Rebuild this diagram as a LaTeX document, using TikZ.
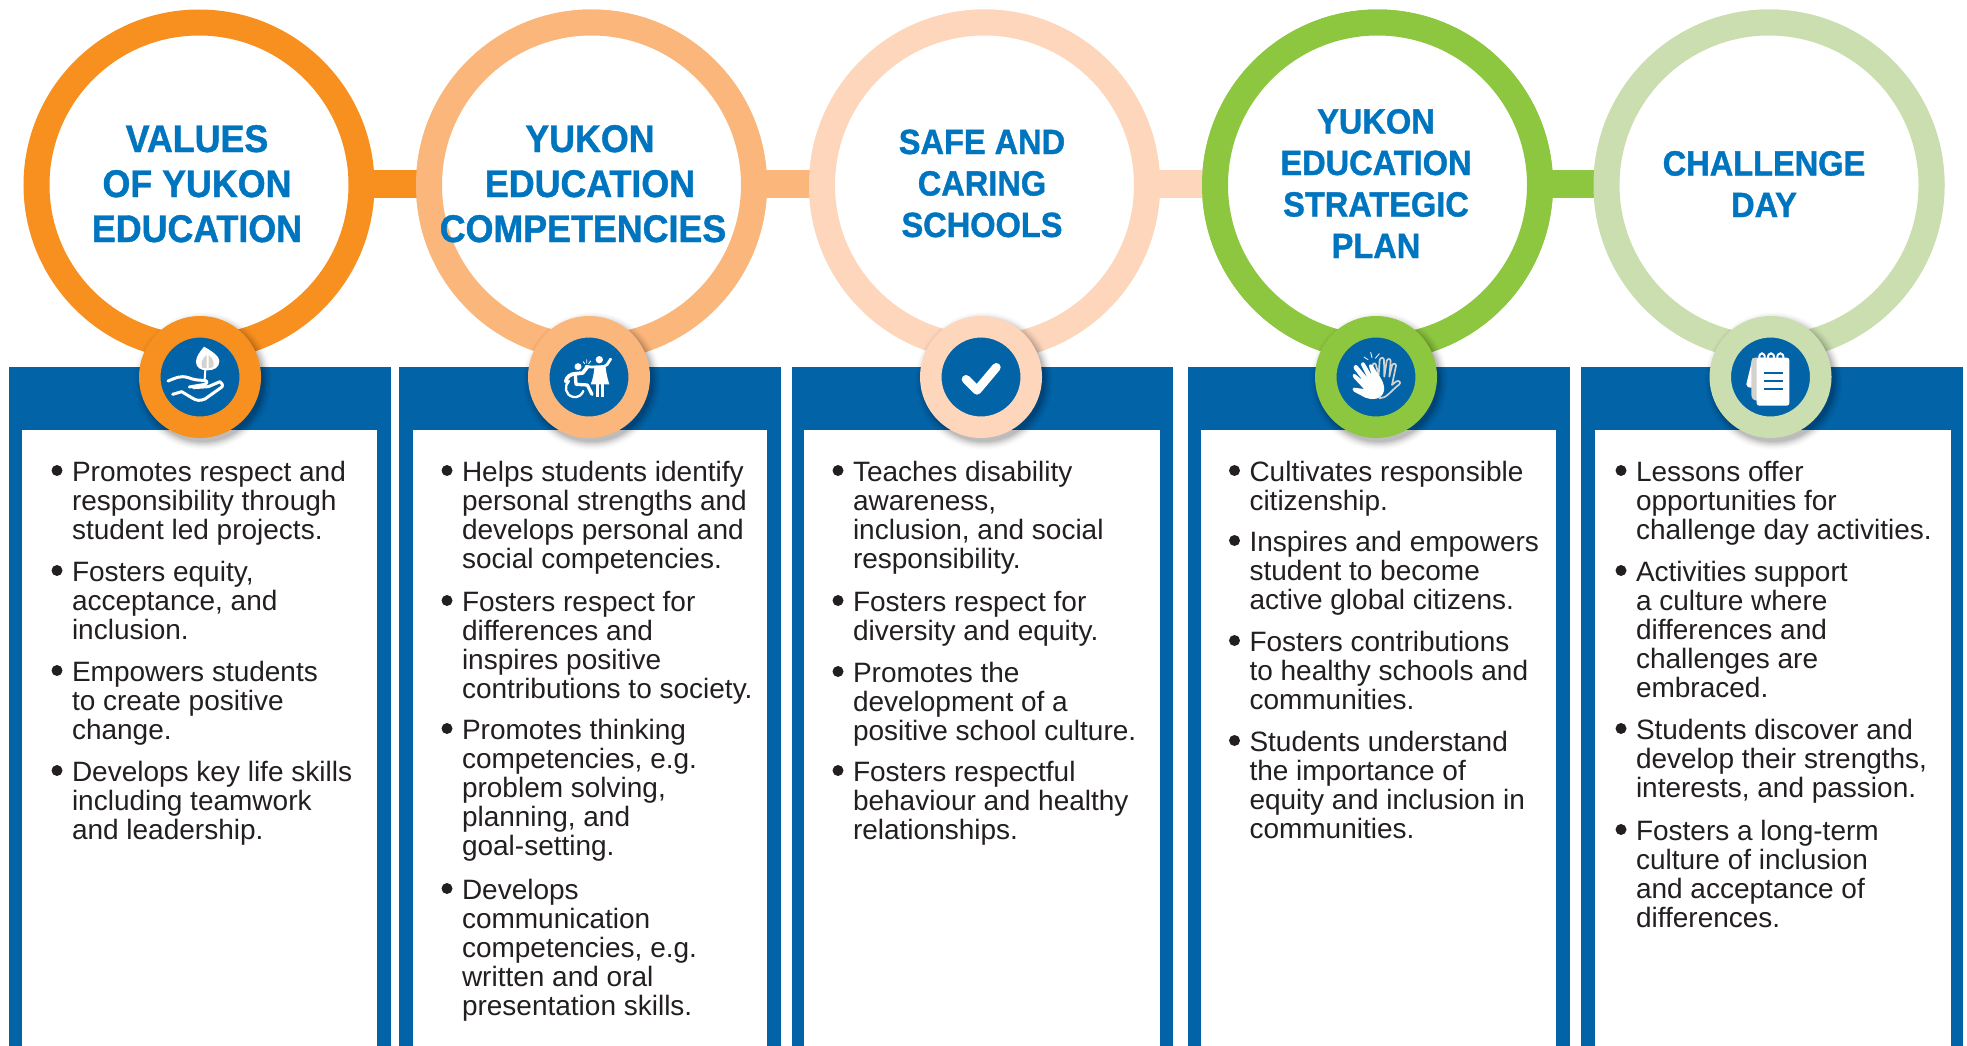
\documentclass[tikz,border=0pt]{standalone}
\usepackage{fontspec}
\setmainfont{Liberation Sans}
\newfontfamily\bodyfam{Liberation Sans}
\newfontfamily\headfam[FakeStretch=0.93,FakeBold=1.1]{Liberation Sans Bold}
\definecolor{panelblue}{HTML}{0363A7}
\definecolor{headblue}{HTML}{0075BF}
\definecolor{inktext}{HTML}{231F20}
\definecolor{cOrange}{HTML}{F7901E}
\definecolor{cPeach}{HTML}{FBB77B}
\definecolor{cPale}{HTML}{FDD6BC}
\definecolor{cGreen}{HTML}{8DC63F}
\definecolor{cSage}{HTML}{CBDEB0}
\definecolor{gr}{HTML}{D4D2CF}
\tikzset{
  ringnode/.style={circle,draw=#1,line width=26pt,fill=white,minimum size=325pt,inner sep=0pt,outer sep=0pt},
  badgenode/.style={circle,draw=#1,line width=21.5pt,fill=panelblue,minimum size=100.5pt,inner sep=0pt,outer sep=0pt},
  linkbar/.style={draw=#1,line width=28pt},
  headtxt/.style={anchor=base,align=center,inner sep=0pt,outer sep=0pt,text=headblue},
  bodytxt/.style={anchor=base west,align=left,inner sep=0pt,outer sep=0pt,text=inktext,font=\bodyfam\fontsize{28}{29.2}\selectfont},
  bulletdot/.style={circle,fill=inktext,minimum size=11pt,inner sep=0pt,outer sep=0pt},
  wline/.style={draw=white,line cap=round,line join=round},
  iconscale/.style={x=.3333pt,y=-.3333pt},
}
\newcommand{\headA}{\headfam\fontsize{38.5}{45}\selectfont}
\newcommand{\headB}{\headfam\fontsize{35}{41.5}\selectfont}
% bullet group: name, text x, first baseline y, line count, lines
\newcommand{\bul}[5]{%
  \node[bulletdot] (#1d) at (#2-15,#3-10.5) {};
  \node[bodytxt] (#1t) at (#2,#3+29.2*#4-29.2) {#5};
}
% panel: name, outer left, outer right, inner left, inner right
\newcommand{\panel}[5]{%
  \node[fill=panelblue,anchor=north west,minimum width=#3pt-#2pt,minimum height=679pt,inner sep=0pt,outer sep=0pt] (#1) at (#2,367) {};
  \node[fill=white,anchor=north west,minimum width=#5pt-#4pt,minimum height=616pt,inner sep=0pt,outer sep=0pt] (#1w) at (#4,430) {};
}
% soft shadow beneath badge at centre
\newcommand{\softshadow}[2]{%
  \foreach \r/\o in {69/.012,68/.016,67/.02,66/.025,65/.03,64/.035,63/.04,62/.05,61/.06}
    \fill[black,opacity=\o] (#1+3,#2+4) circle[radius=\r];
}
% fillets on a ring's side: #1 coordinate, #2 colour, #3 sign
\newcommand{\fillets}[3]{%
  \fill[#2] ([shift={(#3*-2,-24)}]#1) .. controls ([shift={(#3*0,-14.5)}]#1) .. ([shift={(#3*7,-14)}]#1) -- ([shift={(#3*-2,-14)}]#1) -- cycle;
  \fill[#2] ([shift={(#3*-2,24)}]#1) .. controls ([shift={(#3*0,14.5)}]#1) .. ([shift={(#3*7,14)}]#1) -- ([shift={(#3*-2,14)}]#1) -- cycle;
}
\begin{document}
\begin{tikzpicture}[x=1pt,y=-1pt]
\useasboundingbox (0,0) rectangle (1967,1046);
\fill[white] (0,0) rectangle (1967,1046);
% panels
\panel{pA}{9}{391}{22}{377}
\panel{pB}{399}{781}{413}{767}
\panel{pC}{792}{1173}{804}{1160}
\panel{pD}{1188}{1570}{1201}{1556}
\panel{pE}{1581}{1963}{1595}{1951}
% rings
\coordinate (cA) at (199,185);
\coordinate (cB) at (591.5,185);
\coordinate (cC) at (984.5,185);
\coordinate (cD) at (1377.5,185);
\coordinate (cE) at (1769,185);
\node[ringnode=cOrange] (ringA) at (cA) {};
\node[ringnode=cPeach] (ringB) at (cB) {};
\node[ringnode=cPale] (ringC) at (cC) {};
\node[ringnode=cGreen] (ringD) at (cD) {};
\node[ringnode=cSage] (ringE) at (cE) {};
% connectors
\coordinate (lA) at ([yshift=1pt]ringA.east);
\coordinate (lB) at ([yshift=1pt]ringB.east);
\coordinate (lC) at ([yshift=1pt]ringC.east);
\coordinate (lD) at ([yshift=1pt]ringD.east);
\coordinate (mB) at ([yshift=1pt]ringB.west);
\coordinate (mC) at ([yshift=1pt]ringC.west);
\coordinate (mD) at ([yshift=1pt]ringD.west);
\coordinate (mE) at ([yshift=1pt]ringE.west);
\draw[linkbar=cOrange] (lA) -- (mB);
\draw[linkbar=cPeach] (lB) -- (mC);
\draw[linkbar=cPale] (lC) -- (mD);
\draw[linkbar=cGreen] (lD) -- (mE);
\fillets{lA}{cOrange}{1}
\fillets{lB}{cPeach}{1}
\fillets{lC}{cPale}{1}
\fillets{lD}{cGreen}{1}
\fillets{mB}{cOrange}{-1}
\fillets{mC}{cPeach}{-1}
\fillets{mD}{cPale}{-1}
\fillets{mE}{cGreen}{-1}
\node[ringnode=cPeach] at (cB) {};
\node[ringnode=cPale] at (cC) {};
\node[ringnode=cGreen] at (cD) {};
\node[ringnode=cSage] at (cE) {};
% heading text
\node[headtxt,font=\headA] (hA) at (197,242) {VALUES\\OF YUKON\\EDUCATION};
\node[headtxt,font=\headA] (hB) at (590,242) {YUKON\\EDUCATION\\COMPETENCIES\kern14pt};
\node[headtxt,font=\headB] (hC) at (982,237) {SAFE AND\\CARING\\SCHOOLS};
\node[headtxt,font=\headB] (hD) at (1376,258) {YUKON\\EDUCATION\\STRATEGIC\\PLAN};
\node[headtxt,font=\headB] (hE) at (1764,217) {CHALLENGE\\DAY};
% badges
\softshadow{200}{377}
\softshadow{589}{377}
\softshadow{981}{377}
\softshadow{1376}{377}
\softshadow{1770.5}{377}
\node[badgenode=cOrange] (bA) at (200,377) {};
\node[badgenode=cPeach] (bB) at (589,377) {};
\node[badgenode=cPale] (bC) at (981,377) {};
\node[badgenode=cGreen] (bD) at (1376,377) {};
\node[badgenode=cSage] (bE) at (1770.5,377) {};
% icon A: hand and leaf
\begin{scope}[shift={(160,335)},iconscale]
  \fill[white] (132,35) .. controls (120,50) and (108,65) .. (108,80) .. controls (108,98) and (122,106) .. (142,106) .. controls (162,106) and (178,98) .. (178,78) .. controls (178,62) and (150,45) .. (132,35) -- cycle;
  \fill[gr] (140,60) .. controls (128,70) and (122,80) .. (126,98) -- (140,100) -- cycle;
  \fill[gr] (146,60) .. controls (158,70) and (164,80) .. (160,96) -- (146,100) -- cycle;
  \draw[wline,line width=2pt] (136,104) -- (134,132);
  \draw[wline,line width=3pt] (24,138) .. controls (45,130) and (60,120) .. (85,128) .. controls (100,134) and (115,136) .. (130,136) .. controls (140,136) and (145,140) .. (136,148) -- (88,156);
  \draw[wline,line width=3pt] (100,158) -- (145,155) -- (180,140) .. controls (190,148) and (190,155) .. (180,160) -- (135,192) .. controls (120,198) and (110,198) .. (95,188) -- (65,170) -- (38,178);
\end{scope}
% icon B: wheelchair and person
\begin{scope}[shift={(550,335)},iconscale]
  \fill[white] (148,74) circle[radius=11];
  \fill[white] (134,92) -- (166,90) .. controls (168,110) and (172,130) .. (178,148) -- (122,148) .. controls (130,130) and (132,110) .. (134,92) -- cycle;
  \fill[white] (137,148) rectangle (147,186);
  \fill[white] (153,148) rectangle (163,186);
  \draw[wline,line width=2.7pt] (163,94) -- (172,88) -- (182,72);
  \draw[wline,line width=2.7pt] (140,96) -- (124,96) -- (108,94);
  \fill[white] (84,95) circle[radius=10.5];
  \draw[wline,line width=3.7pt] (47,140) .. controls (50,125) and (62,116) .. (78,116) -- (98,114) -- (112,96);
  \draw[wline,line width=3.3pt] (76,118) -- (78,148) -- (112,150) -- (126,178);
  \draw[wline,line width=2.3pt] (57,138) .. controls (42,152) and (44,180) .. (70,186) .. controls (84,188) and (96,180) .. (100,168);
  \draw[wline,line width=.8pt] (100,80) -- (104,86) (110,74) -- (110,84) (122,78) -- (116,86);
\end{scope}
% icon C: check
\begin{scope}[shift={(941,335)},iconscale]
  \draw[wline,line width=8.7pt] (75,133) -- (108,166) -- (166,97);
\end{scope}
% icon D: hands
\begin{scope}[shift={(1340,335)},iconscale]
  \draw[gr,line width=1.7pt,line join=round,line cap=round] (118,190) .. controls (140,190) and (150,170) .. (178,148) .. controls (184,142) and (176,134) .. (168,140) -- (156,150) -- (168,92) .. controls (168,84) and (158,84) .. (156,92) -- (148,125) -- (152,78) .. controls (152,70) and (142,70) .. (140,78) -- (133,125) -- (132,75) .. controls (132,66) and (120,66) .. (119,76) -- (116,120) -- (108,90) .. controls (106,82) and (98,84) .. (98,92);
  \fill[white] (132,155) .. controls (128,130) and (110,115) .. (98,90) .. controls (94,84) and (84,88) .. (88,98) -- (96,122) -- (74,85) .. controls (70,78) and (60,84) .. (64,92) -- (82,128) -- (52,92) .. controls (46,86) and (38,94) .. (42,102) -- (68,136) -- (46,118) .. controls (38,114) and (36,124) .. (42,130) -- (72,162) -- (42,158) .. controls (36,158) and (36,166) .. (42,170) -- (76,188) .. controls (110,200) and (136,185) .. (132,155) -- cycle;
  \draw[wline,line width=.8pt] (72,66) -- (84,74) (92,52) -- (96,68) (118,56) -- (106,70);
\end{scope}
% icon E: notepad
\begin{scope}[shift={(1730,335)},iconscale]
  \fill[white] (68,68) .. controls (62,95) and (54,125) .. (49,148) .. controls (48,155) and (56,158) .. (66,158) -- cycle;
  \fill[gr] (75,68) .. controls (68,68) and (64,72) .. (64,80) -- (64,178) .. controls (64,190) and (70,196) .. (80,197) -- (100,200) -- (100,68) -- cycle;
  \draw[white,line width=2pt] (88,70) .. controls (86,50) and (106,50) .. (104,70);
  \draw[white,line width=2pt] (114,70) .. controls (112,50) and (134,50) .. (132,70);
  \draw[white,line width=2pt] (142,70) .. controls (140,50) and (162,50) .. (160,70);
  \fill[white,rounded corners=2.5pt] (80,68) rectangle (178,212);
  \draw[panelblue,line width=1.7pt] (103,113) -- (160,113) (103,138) -- (160,138) (103,163) -- (160,163);
\end{scope}
% text panel A
\bul{a1}{72}{481}{3}{Promotes respect and\\responsibility through\\student led projects.}
\bul{a2}{72}{581}{3}{Fosters equity,\\acceptance, and\\inclusion.}
\bul{a3}{72}{681}{3}{Empowers students\\to create positive\\change.}
\bul{a4}{72}{781}{3}{Develops key life skills\\including teamwork\\and leadership.}
% panel B
\bul{b1}{462}{481}{4}{Helps students identify\\personal strengths and\\develops personal and\\social competencies.}
\bul{b2}{462}{611}{4}{Fosters respect for\\differences and\\inspires positive\\contributions to society.}
\bul{b3}{462}{739}{5}{Promotes thinking\\competencies, e.g.\\problem solving,\\planning, and\\goal-setting.}
\bul{b4}{462}{899}{5}{Develops\\communication\\competencies, e.g.\\written and oral\\presentation skills.}
% panel C
\bul{c1}{853}{481}{4}{Teaches disability\\awareness,\\inclusion, and social\\responsibility.}
\bul{c2}{853}{611}{2}{Fosters respect for\\diversity and equity.}
\bul{c3}{853}{682}{3}{Promotes the\\development of a\\positive school culture.}
\bul{c4}{853}{781}{3}{Fosters respectful\\behaviour and healthy\\relationships.}
% panel D
\bul{d1}{1249.5}{481}{2}{Cultivates responsible\\citizenship.}
\bul{d2}{1249.5}{551}{3}{Inspires and empowers\\student to become\\active global citizens.}
\bul{d3}{1249.5}{651}{3}{Fosters contributions\\to healthy schools and\\communities.}
\bul{d4}{1249.5}{751}{4}{Students understand\\the importance of\\equity and inclusion in\\communities.}
% panel E
\bul{e1}{1636}{481}{3}{Lessons offer\\opportunities for\\challenge day activities.}
\bul{e2}{1636}{581}{5}{Activities support\\a culture where\\differences and\\challenges are\\embraced.}
\bul{e3}{1636}{739}{3}{Students discover and\\develop their strengths,\\interests, and passion.}
\bul{e4}{1636}{840}{4}{Fosters a long-term\\culture of inclusion\\and acceptance of\\differences.}
\end{tikzpicture}
\end{document}
